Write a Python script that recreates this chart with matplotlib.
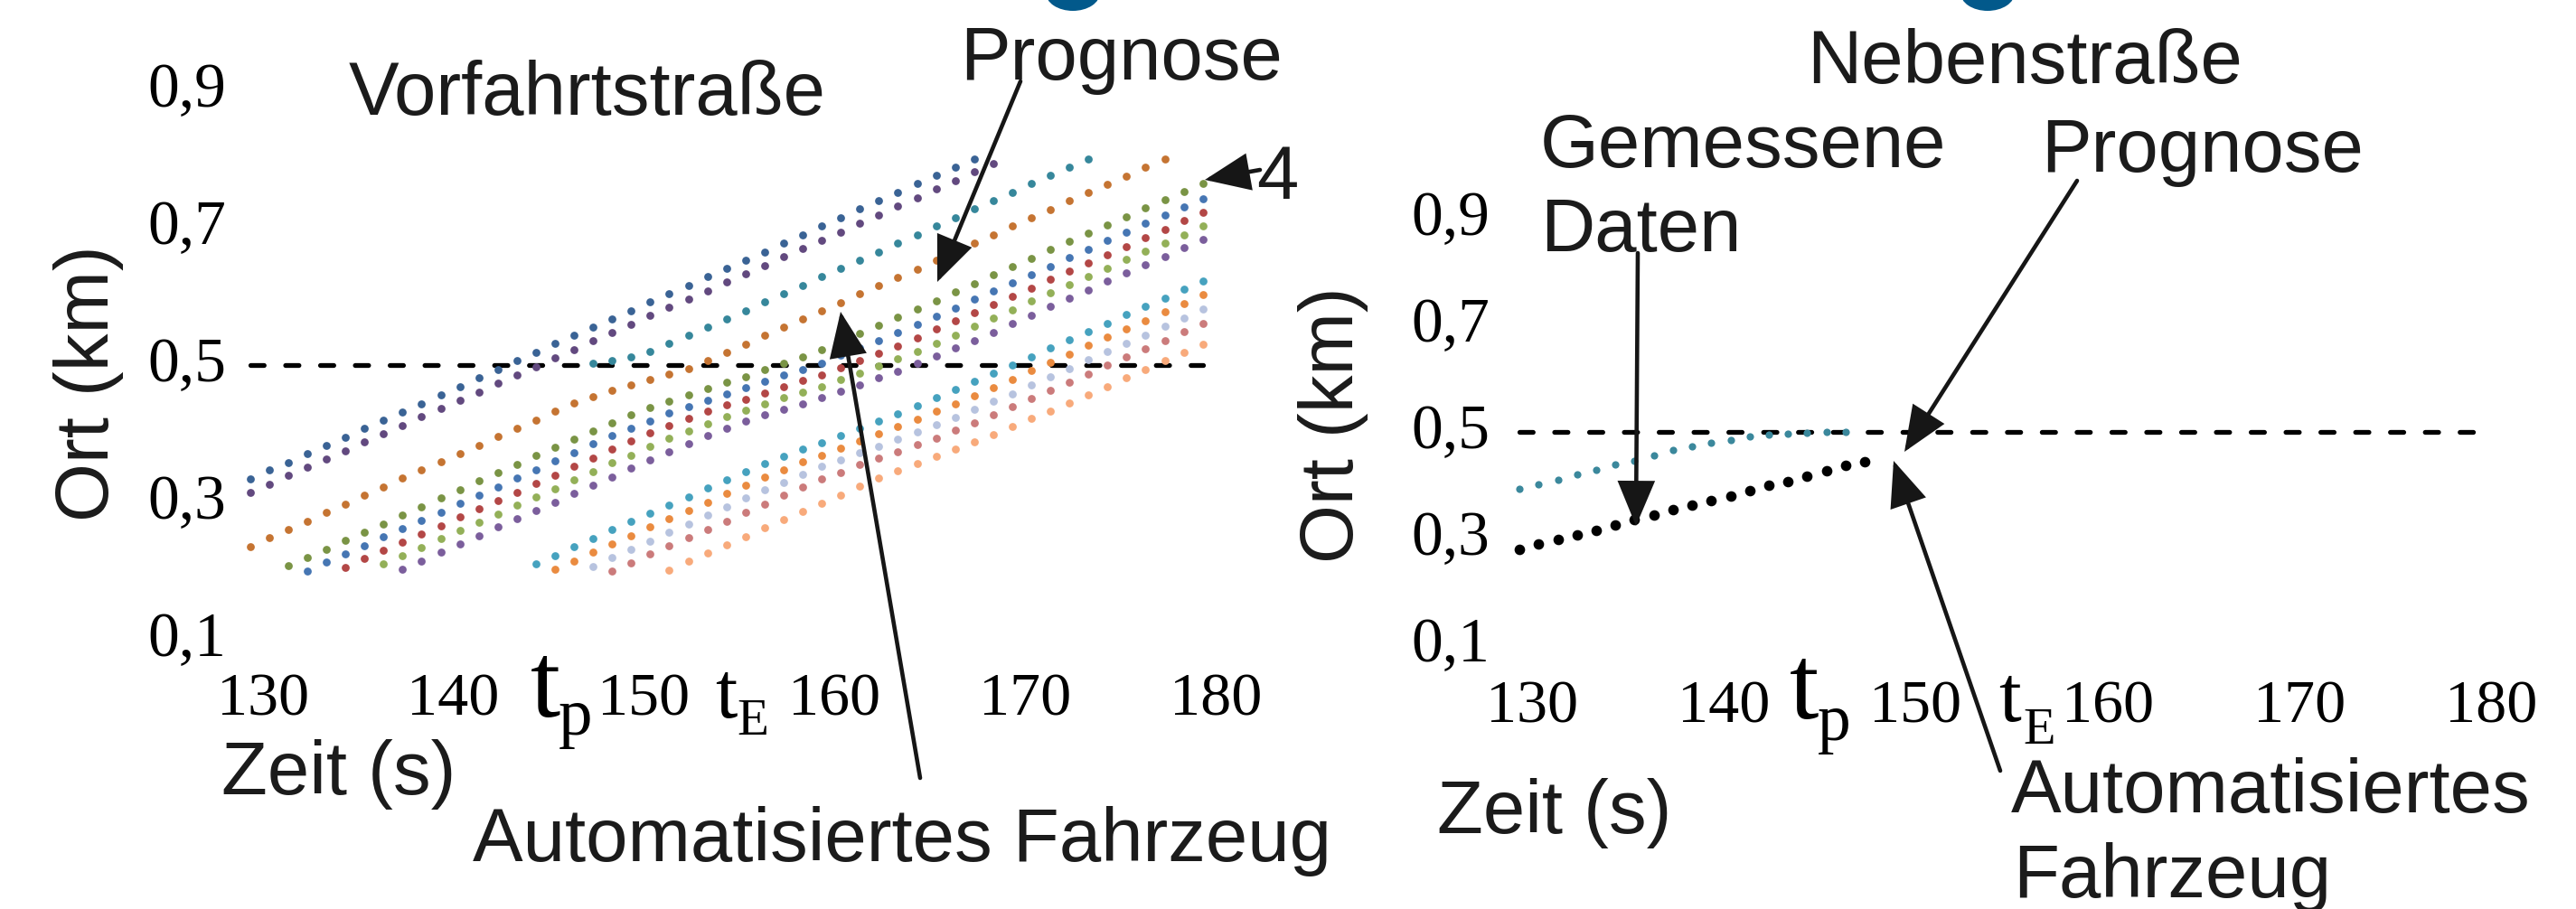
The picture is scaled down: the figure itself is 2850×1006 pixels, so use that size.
import matplotlib
matplotlib.use("Agg")
import matplotlib.pyplot as plt
import matplotlib.transforms as mtransforms
from matplotlib.patches import FancyArrowPatch, Ellipse, ArrowStyle
import numpy as np

W, H, DPI = 2850, 1006, 100
SANS = ["Liberation Sans", "DejaVu Sans"]
SERIF = ["Liberation Serif", "DejaVu Serif"]
TXT = "#1b1b1b"

# ---------------- data: Vorfahrtstraße (left) ----------------
# each series: position (km) sampled every second, starting at the given time (s)
vf_darkblue_t0 = 130
vf_darkblue = [0.334, 0.347, 0.358, 0.371, 0.383, 0.395, 0.408, 0.420, 0.432, 0.444,
               0.457, 0.469, 0.481, 0.493, 0.506, 0.518, 0.531, 0.543, 0.555, 0.567,
               0.579, 0.592, 0.604, 0.616, 0.629, 0.641, 0.653, 0.665, 0.678, 0.690,
               0.702, 0.715, 0.727, 0.739, 0.751, 0.764, 0.776, 0.788, 0.800]
vf_purple_t0 = 130
vf_purple = [0.314, 0.326, 0.339, 0.351, 0.363, 0.375, 0.388, 0.400, 0.412, 0.425,
             0.437, 0.449, 0.461, 0.474, 0.486, 0.498, 0.511, 0.522, 0.535, 0.547,
             0.559, 0.572, 0.584, 0.596, 0.608, 0.621, 0.633, 0.645, 0.658, 0.670,
             0.682, 0.694, 0.707, 0.719, 0.732, 0.743, 0.756, 0.768, 0.781, 0.793]
vf_teal_t0 = 148
vf_teal = [0.502, 0.506, 0.512, 0.520, 0.531, 0.543, 0.555, 0.567, 0.579, 0.592,
           0.604, 0.616, 0.629, 0.641, 0.653, 0.665, 0.678, 0.690, 0.702, 0.714,
           0.727, 0.739, 0.751, 0.764, 0.776, 0.788, 0.800]
vf_auto_t0 = 130
vf_auto = [0.236, 0.249, 0.261, 0.273, 0.286, 0.298, 0.310, 0.322, 0.335, 0.347,
           0.359, 0.371, 0.383, 0.396, 0.408, 0.420, 0.433, 0.445, 0.454, 0.463,
           0.471, 0.479, 0.487, 0.495, 0.506, 0.518, 0.530, 0.543, 0.555, 0.567,
           0.579, 0.591, 0.604, 0.616, 0.628, 0.640, 0.653, 0.665, 0.677, 0.690,
           0.702, 0.714, 0.726, 0.739, 0.751, 0.763, 0.775, 0.788, 0.800]
vf_olive_t0 = 132
vf_olive = [0.208, 0.220, 0.232, 0.245, 0.257, 0.269, 0.282, 0.294, 0.306, 0.318,
            0.331, 0.343, 0.355, 0.368, 0.380, 0.392, 0.404, 0.416, 0.427, 0.438,
            0.447, 0.457, 0.466, 0.475, 0.483, 0.493, 0.502, 0.512, 0.523, 0.535,
            0.546, 0.558, 0.570, 0.582, 0.594, 0.606, 0.618, 0.631, 0.643, 0.655,
            0.668, 0.680, 0.692, 0.704, 0.716, 0.729, 0.741, 0.753, 0.765]
vf_blue_t0 = 133
vf_blue = [0.200, 0.213, 0.225, 0.237, 0.250, 0.262, 0.274, 0.286, 0.299, 0.311,
           0.323, 0.336, 0.348, 0.360, 0.372, 0.385, 0.397, 0.408, 0.419, 0.430,
           0.440, 0.449, 0.458, 0.467, 0.476, 0.485, 0.494, 0.503, 0.514, 0.525,
           0.536, 0.547, 0.559, 0.571, 0.583, 0.596, 0.608, 0.620, 0.632, 0.644,
           0.657, 0.669, 0.681, 0.693, 0.706, 0.718, 0.730, 0.742]
vf_red_t0 = 135
vf_red = [0.205, 0.218, 0.230, 0.242, 0.254, 0.266, 0.279, 0.291, 0.303, 0.315,
          0.328, 0.340, 0.353, 0.365, 0.377, 0.389, 0.401, 0.412, 0.423, 0.433,
          0.442, 0.450, 0.459, 0.468, 0.477, 0.486, 0.496, 0.506, 0.517, 0.528,
          0.540, 0.552, 0.564, 0.576, 0.588, 0.600, 0.612, 0.625, 0.637, 0.649,
          0.661, 0.673, 0.686, 0.698, 0.710, 0.722]
vf_lightgreen_t0 = 137
vf_lightgreen = [0.210, 0.222, 0.234, 0.247, 0.259, 0.271, 0.283, 0.296, 0.308, 0.320,
                 0.333, 0.345, 0.358, 0.369, 0.382, 0.393, 0.404, 0.415, 0.425, 0.434,
                 0.443, 0.452, 0.461, 0.469, 0.479, 0.488, 0.499, 0.509, 0.520, 0.532,
                 0.544, 0.556, 0.568, 0.580, 0.593, 0.605, 0.617, 0.629, 0.641, 0.654,
                 0.666, 0.678, 0.690, 0.703]
vf_violet_t0 = 138
vf_violet = [0.202, 0.214, 0.227, 0.239, 0.251, 0.264, 0.276, 0.288, 0.300, 0.313,
             0.325, 0.337, 0.350, 0.362, 0.374, 0.386, 0.397, 0.408, 0.418, 0.427,
             0.436, 0.444, 0.453, 0.462, 0.471, 0.481, 0.491, 0.502, 0.513, 0.525,
             0.536, 0.548, 0.561, 0.573, 0.585, 0.597, 0.609, 0.622, 0.634, 0.646,
             0.658, 0.671, 0.683]
vf_aqua_t0 = 145
vf_aqua = [0.211, 0.223, 0.235, 0.247, 0.260, 0.272, 0.284, 0.296, 0.308, 0.321,
           0.333, 0.345, 0.356, 0.367, 0.377, 0.387, 0.397, 0.408, 0.418, 0.429,
           0.441, 0.452, 0.464, 0.476, 0.488, 0.500, 0.512, 0.525, 0.537, 0.549,
           0.561, 0.574, 0.586, 0.598, 0.611, 0.623]
vf_orange_t0 = 146
vf_orange = [0.203, 0.214, 0.227, 0.239, 0.251, 0.264, 0.276, 0.288, 0.300, 0.313,
             0.325, 0.337, 0.348, 0.359, 0.369, 0.379, 0.389, 0.400, 0.410, 0.421,
             0.433, 0.443, 0.455, 0.467, 0.479, 0.492, 0.504, 0.516, 0.529, 0.541,
             0.553, 0.565, 0.578, 0.590, 0.602]
vf_lavender_t0 = 148
vf_lavender = [0.207, 0.220, 0.232, 0.244, 0.257, 0.269, 0.281, 0.293, 0.306, 0.318,
               0.329, 0.341, 0.352, 0.362, 0.372, 0.382, 0.392, 0.402, 0.413, 0.424,
               0.435, 0.447, 0.458, 0.471, 0.483, 0.495, 0.508, 0.520, 0.532, 0.544,
               0.556, 0.568, 0.581]
vf_rose_t0 = 149
vf_rose = [0.200, 0.212, 0.225, 0.237, 0.249, 0.261, 0.273, 0.286, 0.298, 0.310,
           0.322, 0.334, 0.344, 0.355, 0.364, 0.374, 0.384, 0.394, 0.405, 0.416,
           0.428, 0.439, 0.451, 0.463, 0.475, 0.487, 0.500, 0.512, 0.524, 0.536,
           0.549, 0.561]
vf_peach_t0 = 152
vf_peach = [0.201, 0.214, 0.226, 0.238, 0.250, 0.263, 0.275, 0.287, 0.299, 0.311,
            0.324, 0.335, 0.346, 0.357, 0.367, 0.377, 0.388, 0.399, 0.411, 0.422,
            0.433, 0.445, 0.457, 0.469, 0.481, 0.493, 0.506, 0.518, 0.530]

# ---------------- data: Nebenstraße (right) ----------------
nb_measured_t0 = 130
nb_measured = [0.392, 0.401, 0.410, 0.419, 0.429, 0.438, 0.446, 0.455, 0.465,
               0.472, 0.479, 0.485, 0.491, 0.494, 0.496, 0.498, 0.500, 0.499]
nb_auto_t0 = 130
nb_auto = [0.279, 0.289, 0.298, 0.307, 0.315, 0.325, 0.335, 0.344, 0.353, 0.362,
           0.371, 0.380, 0.389, 0.399, 0.407, 0.417, 0.427, 0.436, 0.444]

conflict_position = 0.5
time_range = [130, 180]
x_ticks = [130, 140, 150, 160, 170, 180]
x_tick_labels = ["130", "140", "150", "160", "170", "180"]
y_ticks = [0.1, 0.3, 0.5, 0.7, 0.9]
y_tick_labels = ["0,1", "0,3", "0,5", "0,7", "0,9"]

left_series = [
    (vf_darkblue_t0, vf_darkblue, "#3A6395"),
    (vf_purple_t0, vf_purple, "#62497F"),
    (vf_teal_t0, vf_teal, "#36879B"),
    (vf_auto_t0, vf_auto, "#C57432"),
    (vf_olive_t0, vf_olive, "#7A9445"),
    (vf_blue_t0, vf_blue, "#4676B3"),
    (vf_red_t0, vf_red, "#B34746"),
    (vf_lightgreen_t0, vf_lightgreen, "#93B058"),
    (vf_violet_t0, vf_violet, "#7B5E9C"),
    (vf_aqua_t0, vf_aqua, "#46A2BF"),
    (vf_orange_t0, vf_orange, "#EA8B40"),
    (vf_lavender_t0, vf_lavender, "#B7C3DF"),
    (vf_rose_t0, vf_rose, "#CB7B7B"),
    (vf_peach_t0, vf_peach, "#F8AA7B"),
]

# ---------------- figure ----------------
fig = plt.figure(figsize=(W / DPI, H / DPI), dpi=DPI)
fig.patch.set_facecolor("white")


def fx(x):
    return x / W


def fy(y):
    return 1 - y / H


ax1 = fig.add_axes([fx(171.3), (H - 784) / H, 1264.8 / W, 760 / H])
ax2 = fig.add_axes([fx(1575), (H - 772.7) / H, 1273.2 / W, 590 / H])
for ax in (ax1, ax2):
    ax.set_xlim(125, 185)
    ax.set_ylim(0, 1)
    ax.axis("off")

dash_kw = dict(color="black", lw=3.8, dashes=(2.8, 4.5), dash_capstyle="round", zorder=1)
ax1.plot(time_range, [conflict_position] * 2, **dash_kw)
ax2.plot(time_range, [conflict_position] * 2, **dash_kw)

for t0, vals, col in left_series:
    t = t0 + np.arange(len(vals))
    ax1.plot(t, vals, ls="none", marker="o", ms=6.3, mew=0, color=col, zorder=3)

ax2.plot(nb_measured_t0 + np.arange(len(nb_measured)), nb_measured, ls="none",
         marker="o", ms=5.9, mew=0, color="#3B889C", zorder=3)
ax2.plot(nb_auto_t0 + np.arange(len(nb_auto)), nb_auto, ls="none",
         marker="o", ms=8.4, mew=0, color="black", zorder=3)

# ---------------- tick labels ----------------
def tick_labels(ax, x_base, ylab_right):
    tx = mtransforms.blended_transform_factory(ax.transData, fig.transFigure) + \
        mtransforms.ScaledTranslation(14 / DPI, 0, fig.dpi_scale_trans)
    for v, lab in zip(x_ticks, x_tick_labels):
        ax.text(v, fy(x_base), lab, transform=tx, ha="center", va="baseline",
                fontsize=49, family=SERIF, color="black")
    ty = mtransforms.blended_transform_factory(fig.transFigure, ax.transData) + \
        mtransforms.ScaledTranslation(0, -18 / DPI, fig.dpi_scale_trans)
    for v, lab in zip(y_ticks, y_tick_labels):
        ax.text(fx(ylab_right), v, lab, transform=ty, ha="right", va="baseline",
                fontsize=50, family=SERIF, color="black")


tick_labels(ax1, 792, 250)
tick_labels(ax2, 799, 1648)


def ftext(x, y, s, size=60, family=SANS, **kw):
    kw.setdefault("color", TXT)
    fig.text(fx(x), fy(y), s, fontsize=size, family=family, ha=kw.pop("ha", "left"),
             va=kw.pop("va", "baseline"), **kw)


# t_p / t_E markers
ftext(587, 793, "t", size=86, family=SERIF, color="black")
ftext(618, 813, "p", size=54, family=SERIF, color="black")
ftext(791, 794, "t", size=63, family=SERIF, color="black")
ftext(815, 813, "E", size=41, family=SERIF, color="black")
ftext(1980, 795, "t", size=84, family=SERIF, color="black")
ftext(2011, 819, "p", size=53, family=SERIF, color="black")
ftext(2211, 798, "t", size=64, family=SERIF, color="black")
ftext(2238, 823, "E", size=42, family=SERIF, color="black")

# axis titles
ftext(245, 879, "Zeit (s)")
ftext(1590, 922, "Zeit (s)")
fig.text(fx(120), fy(424), "Ort (km)", rotation=90, rotation_mode="anchor",
         ha="center", va="baseline", fontsize=60, family=SANS, color=TXT)
fig.text(fx(1497), fy(470), "Ort (km)", rotation=90, rotation_mode="anchor",
         ha="center", va="baseline", fontsize=60, family=SANS, color=TXT)

# annotations
ftext(386, 127, "Vorfahrtstraße")
ftext(1062, 88, "Prognose")
ftext(1390, 220, "4")
ftext(523, 953, "Automatisiertes Fahrzeug")
ftext(1999, 92, "Nebenstraße")
ftext(1704, 185, "Gemessene")
ftext(1704, 278, "Daten")
ftext(2258, 190, "Prognose")
ftext(2225, 899, "Automatisiertes")
ftext(2227, 993, "Fahrzeug")

arrows = [
    ((1129, 90), (1037, 312)),
    ((1018, 861), (930, 345)),
    ((1394, 188), (1333, 199)),
    ((1812, 280), (1810, 582)),
    ((2298, 200), (2107, 500)),
    ((2213, 853), (2095, 510)),
]
for (x0, y0), (x1, y1) in arrows:
    fig.add_artist(FancyArrowPatch(
        (fx(x0), fy(y0)), (fx(x1), fy(y1)), transform=fig.transFigure,
        arrowstyle=ArrowStyle("-|>", head_length=30, head_width=12.5),
        mutation_scale=1, lw=3.3, color="#161616", shrinkA=0, shrinkB=0,
        joinstyle="miter", zorder=5))

# cut-off decorative shapes at the top edge
for cx in (1187, 2199):
    fig.add_artist(Ellipse((fx(cx), fy(-8)), 60 / W, 40 / H, transform=fig.transFigure,
                           facecolor="#02598B", edgecolor="none", zorder=5))

fig.savefig("out.png", dpi=DPI, facecolor="white")
